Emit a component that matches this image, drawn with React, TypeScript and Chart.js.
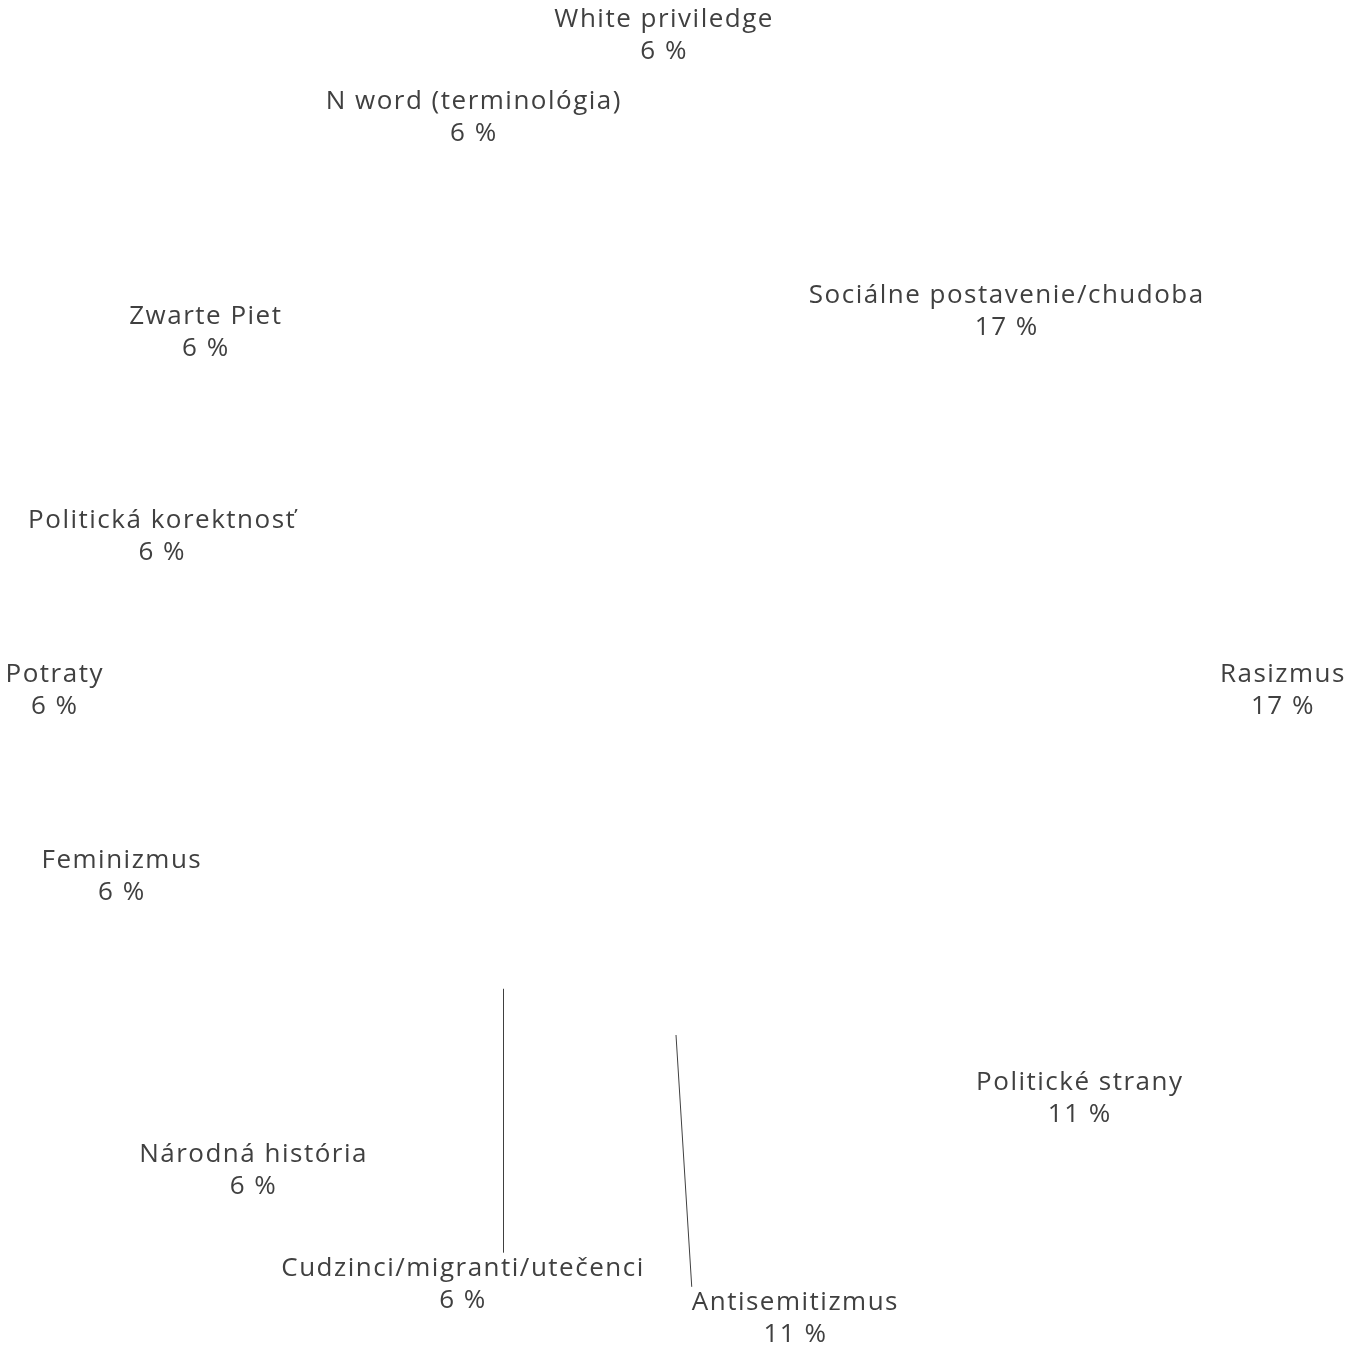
import React, { useEffect, useRef } from "react";
import { Chart, registerables } from "chart.js";

Chart.register(...registerables);

// Data
const categories = [
  "Sociálne postavenie/chudoba",
  "Rasizmus",
  "Politické strany",
  "Antisemitizmus",
  "Cudzinci/migranti/utečenci",
  "Národná história",
  "Feminizmus",
  "Potraty",
  "Politická korektnosť",
  "Zwarte Piet",
  "N word (terminológia)",
  "White priviledge",
];
const counts = [3, 3, 2, 2, 1, 1, 1, 1, 1, 1, 1, 1];
const percentLabels = ["17 %", "17 %", "11 %", "11 %", "6 %", "6 %", "6 %", "6 %", "6 %", "6 %", "6 %", "6 %"];

// Label layout (angle nudge in degrees from slice middle, radius as multiple of pie radius)
const labelAngleNudge = [11, 0, -4.7, -10.7, -10.2, -8.6, 1.5, 0, -3.3, -2.7, 10.5, 8.9];
const labelRadiusFactor = [1.458, 1.757, 1.661, 1.852, 1.829, 1.855, 1.696, 1.803, 1.557, 1.716, 1.762, 1.901];
const showLeader = [false, false, false, true, true, false, false, false, false, false, false, false];

const FONT = '26px "Open Sans", "Noto Sans", sans-serif';
const LETTER_SPACING = 1.5;
const LINE_H = 32;
const TEXT_COLOR = "#404040";

const labelPlugin = {
  id: "outsideLabels",
  afterDatasetsDraw(chart: any) {
    const ctx = chart.ctx;
    const meta = chart.getDatasetMeta(0);
    ctx.save();
    ctx.font = FONT;
    (ctx as any).letterSpacing = LETTER_SPACING + "px";
    ctx.fillStyle = TEXT_COLOR;
    ctx.textAlign = "center";
    ctx.textBaseline = "middle";
    meta.data.forEach((arc: any, i: number) => {
      const p = arc.getProps(["x", "y", "startAngle", "endAngle", "outerRadius"], true);
      const mid = (p.startAngle + p.endAngle) / 2;
      const a = mid + (labelAngleNudge[i] * Math.PI) / 180;
      const r = p.outerRadius * labelRadiusFactor[i];
      const cx = p.x + r * Math.cos(a);
      const cy = p.y + r * Math.sin(a);
      const t1 = categories[i];
      const t2 = percentLabels[i];
      const tx = cx + LETTER_SPACING / 2;
      ctx.fillText(t1, tx, cy - LINE_H / 2 + 1);
      ctx.fillText(t2, tx, cy + LINE_H / 2 + 1);
      if (showLeader[i]) {
        const w = Math.max(ctx.measureText(t1).width, ctx.measureText(t2).width) - LETTER_SPACING;
        const sx = p.x + p.outerRadius * Math.cos(mid);
        const sy = p.y + p.outerRadius * Math.sin(mid);
        const left = cx - w / 2;
        const right = cx + w / 2;
        const ex = Math.min(Math.max(sx, left), right);
        const ey = cy - LINE_H + 1;
        ctx.strokeStyle = TEXT_COLOR;
        ctx.lineWidth = 1;
        ctx.beginPath();
        ctx.moveTo(sx, sy);
        ctx.lineTo(ex, ey);
        ctx.stroke();
      }
    });
    ctx.restore();
  },
};

export default function App() {
  const ref = useRef<HTMLCanvasElement | null>(null);
  useEffect(() => {
    document.body.style.margin = "0";
    document.body.style.overflow = "hidden";
    if (!ref.current) return;
    const chart = new Chart(ref.current, {
      type: "pie",
      data: {
        labels: categories,
        datasets: [
          {
            data: counts,
            backgroundColor: "rgba(255,255,255,0)",
            borderWidth: 0,
          },
        ],
      },
      options: {
        responsive: false,
        animation: false,
        devicePixelRatio: 1,
        layout: { padding: { left: 331, right: 328, top: 345, bottom: 314 } },
        plugins: {
          legend: { display: false },
          tooltip: { enabled: false },
        },
      },
      plugins: [labelPlugin],
    });
    return () => chart.destroy();
  }, []);
  return (
    <div style={{ position: "fixed", left: 0, top: 0, width: 1349, height: 1349, background: "#fff" }}>
      <canvas ref={ref} width={1349} height={1349} style={{ display: "block" }} />
    </div>
  );
}
